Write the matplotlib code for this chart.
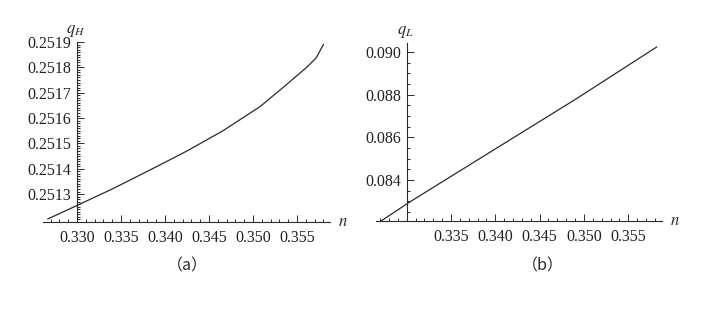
import numpy as np
import matplotlib
matplotlib.use("Agg")
import matplotlib.pyplot as plt
from matplotlib.ticker import MultipleLocator, FixedLocator

plt.rcParams['font.family'] = ['Liberation Serif', 'DejaVu Serif']
plt.rcParams['mathtext.fontset'] = 'stix'

# data
n_a = [0.3267, 0.3300, 0.3340, 0.3383, 0.3425, 0.3466, 0.3508, 0.3534, 0.3561, 0.3572, 0.3580]
q_h = [0.251202, 0.251255, 0.25132, 0.251395, 0.25147, 0.25155, 0.251645, 0.25172, 0.25180, 0.251838, 0.25189]

n_b = [0.3271, 0.3303, 0.3381, 0.3490, 0.3582]
q_l = [0.08208, 0.08296, 0.08497, 0.08777, 0.09023]

xticks_a = [0.330, 0.335, 0.340, 0.345, 0.350, 0.355]
xticks_b = [0.335, 0.340, 0.345, 0.350, 0.355]
yticks_a = [0.2513, 0.2514, 0.2515, 0.2516, 0.2517, 0.2518, 0.2519]
yticks_b = [0.084, 0.086, 0.088, 0.090]

ink = '#2a2a2a'

fig = plt.figure(figsize=(7.09, 3.09), dpi=100)


def setup(ax, xlim, ylim, xt, xfmt, yt, yfmt, xminor, yminor, ylab, caption, cx):
    ax.set_xlim(*xlim)
    ax.set_ylim(*ylim)
    for s in ['top', 'right']:
        ax.spines[s].set_visible(False)
    ax.spines['left'].set_position(('data', 0.330))
    for s in ['left', 'bottom']:
        ax.spines[s].set_color(ink)
        ax.spines[s].set_linewidth(0.8)
    ax.xaxis.set_major_locator(FixedLocator(xt))
    ax.set_xticklabels([xfmt.format(v) for v in xt])
    ax.yaxis.set_major_locator(FixedLocator(yt))
    ax.set_yticklabels([yfmt.format(v) for v in yt])
    ax.xaxis.set_minor_locator(MultipleLocator(xminor))
    ax.yaxis.set_minor_locator(MultipleLocator(yminor))
    ax.tick_params(which='both', direction='in', color=ink, width=0.7,
                   labelsize=11.5, labelcolor='#222222')
    ax.tick_params(which='major', length=5)
    ax.tick_params(which='minor', length=2.5)
    ax.tick_params(axis='x', pad=6)
    ax.tick_params(axis='y', pad=4)
    ax.annotate(ylab, xy=(0.330, ylim[1]), xytext=(-1, 2), textcoords='offset points',
                ha='center', va='bottom', fontsize=12, color=ink)
    ax.annotate('$n$', xy=(xlim[1], ylim[0]), xytext=(6, 0), textcoords='offset points',
                ha='left', va='center', fontsize=12, color=ink, annotation_clip=False)
    fig.text(cx, 0.14, caption, ha='center', va='center', fontsize=11.5,
             color=ink, family=['Noto Sans CJK SC', 'Liberation Serif'])


ax1 = fig.add_axes([0.0606, 0.2816, 0.4048, 0.5825])
ax1.plot(n_a, q_h, color=ink, lw=0.9)
setup(ax1, (0.32614, 0.35875), (0.25119, 0.25190), xticks_a, '{:.3f}',
      yticks_a, '{:.4f}', 0.001, 0.00001, '$q_H$', '（a）', 0.264)

ax2 = fig.add_axes([0.5303, 0.2848, 0.4034, 0.576])
ax2.plot(n_b, q_l, color=ink, lw=0.9)
setup(ax2, (0.32653, 0.35881), (0.08208, 0.09042), xticks_b, '{:.3f}',
      yticks_b, '{:.3f}', 0.001, 0.0005, '$q_L$', '（b）', 0.766)

fig.savefig('out.png', dpi=100)
